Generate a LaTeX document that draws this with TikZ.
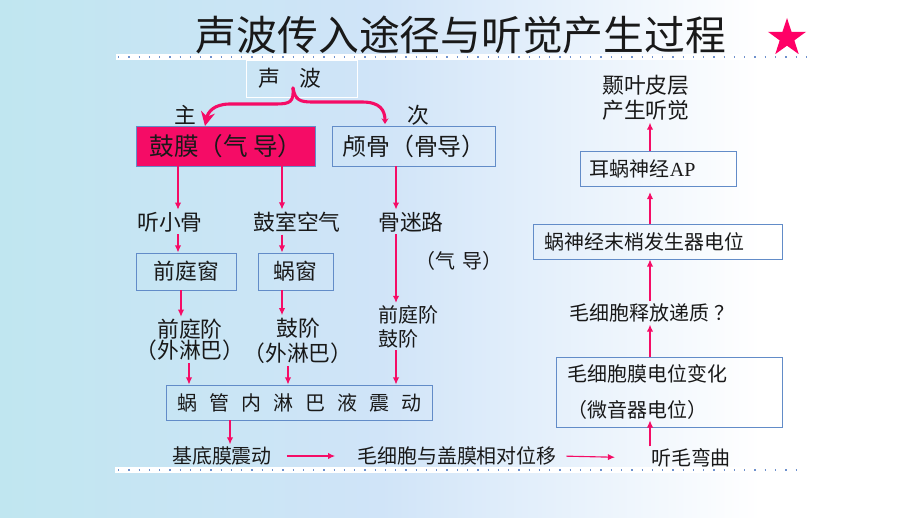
\documentclass[tikz,border=0pt]{standalone}
\usepackage{fontspec}
\setmainfont{Noto Sans CJK SC}
\newfontfamily\apserif{Liberation Serif}
\usetikzlibrary{arrows.meta,shapes.geometric,calc}
\definecolor{earpink}{RGB}{245, 12, 102}
\definecolor{earstar}{RGB}{255, 0, 102}
\definecolor{earblue}{RGB}{98, 140, 200}
\definecolor{eardot}{RGB}{110, 145, 205}
\definecolor{earcyan}{RGB}{192, 230, 240}
\definecolor{earsky}{RGB}{208, 228, 248}
\definecolor{earink}{RGB}{25, 25, 25}

\newcommand{\txttitle}{\fontsize{29pt}{32pt}\selectfont}
\newcommand{\txtbig}{\fontsize{15.5pt}{18pt}\selectfont}
\newcommand{\txtmid}{\fontsize{14.2pt}{17pt}\selectfont}

\tikzset{
  flowbox/.style={draw=earblue, line width=0.7pt, inner sep=0pt, text=earink},
  flowtext/.style={inner sep=1.5pt, text=earink},
  flowarrow/.style={draw=earpink, line width=0.8pt, -{Latex[length=5pt,width=4.5pt]}},
  bracearrow/.style={draw=earpink, line width=2.2pt, line cap=round},
  dotrule/.style={draw=eardot, line width=1.4pt, dash pattern=on 0.9pt off 6.4pt}
}

\begin{document}
\begin{tikzpicture}[x=0.025cm, y=-0.025cm]
% background
\useasboundingbox (0,0) rectangle (920,518);
\fill[white] (0,0) rectangle (920,518);
\shade[left color=earcyan, right color=white, middle color=earsky] (0,0) rectangle (760,518);

% title and rules
\node[text=earink, font=\txttitle] (title) at (461,35) {声波传入途径与听觉产生过程};
\node[star, star points=5, star point ratio=2.6, fill=earstar, minimum size=1cm, inner sep=0pt] (star) at (787,38) {};
\fill[white] (116,54) rectangle (806,60);
\draw[dotrule] (118,57) -- (806,57);
\fill[white] (115,467) rectangle (800,473);
\draw[dotrule] (118,470) -- (800,470);

% left part: conduction
\node[flowbox, draw=white, minimum width=2.75cm, minimum height=0.925cm, font=\txtbig] (sound) at (302,78.5) {声\hspace{0.85em}波\hspace*{0.6cm}};
\node[flowtext, font=\txtbig] (main) at (185,115) {主};
\node[flowtext, font=\txtbig] (second) at (418,115) {次};
\node[flowbox, fill=earpink, minimum width=4.45cm, minimum height=1cm, font=\fontsize{17.5pt}{20pt}\selectfont] (drum) at (226,146) {鼓膜（气 导）};
\node[flowbox, minimum width=4.05cm, minimum height=1cm, font=\fontsize{17pt}{20pt}\selectfont] (skull) at (414,146) {颅骨（骨导）};

\node[flowtext, font=\txtbig] (ossicle) at (170,222) {听小骨};
\node[flowtext, font=\txtbig] (tympair) at (297,222) {鼓室空气};
\node[flowtext, font=\txtbig] (bonelab) at (411,222) {骨迷路};
\node[flowbox, minimum width=2.475cm, minimum height=0.925cm, font=\txtbig] (ovalwin) at (186.5,271.5) {前庭窗};
\node[flowbox, minimum width=1.875cm, minimum height=0.925cm, font=\txtbig] (roundwin) at (295.5,271.5) {蜗窗};
\node[flowtext, font=\txtmid] (airnote) at (459,261) {（气\hspace{0.4em}导）};

\node[flowtext, align=center, font=\txtbig] (vestib) at (190,340) {前庭阶\\[-3pt]（外淋巴）};
\node[flowtext, align=center, font=\txtbig] (tympani) at (298,340.5) {鼓阶\\（外淋巴）};
\node[flowtext, align=left, anchor=west, font=\txtmid] (bonescala) at (376,326.5) {前庭阶\\鼓阶};

\node[flowbox, minimum width=6.625cm, minimum height=0.875cm, font=\txtmid] (cochlea) at (299.5,402.5) {{\spaceskip=0.6em 蜗 管 内 淋 巴 液 震 动}};

% bottom row
\node[flowtext, font=\txtmid] (basilar) at (222,456) {基底膜震动};
\node[flowtext, font=\txtmid] (shear) at (457,456) {毛细胞与盖膜相对位移};
\node[flowtext, font=\txtmid] (hairbend) at (691,458) {听毛弯曲};

% right part: transduction
\node[flowbox, minimum width=5.625cm, minimum height=1.75cm, text width=5.075cm, inner xsep=0.275cm, align=left, font=\fontsize{14.2pt}{25pt}\selectfont] (hairpot) at (669.5,392) {毛细胞膜电位变化\\（微音器电位）};
\node[flowtext, font=\txtmid] (transmit) at (652,313) {毛细胞释放递质 ？};
\node[flowbox, minimum width=6.2cm, minimum height=0.875cm, text width=5.65cm, inner xsep=0.275cm, align=left, font=\txtmid] (generator) at (658,241.5) {蜗神经末梢发生器电位};
\node[flowbox, minimum width=3.875cm, minimum height=0.875cm, text width=3.425cm, inner xsep=0.225cm, align=left, font=\txtmid] (nerveap) at (658.5,168.5) {耳蜗神经{\apserif AP}};
\node[flowtext, align=left, anchor=west, font=\txtbig] (cortex) at (600,97.5) {颞叶皮层\\产生听觉};

% arrow columns
\coordinate (colA) at (178,0);
\coordinate (colAa) at (181,0);
\coordinate (colAb) at (189,0);
\coordinate (colB) at (282,0);
\coordinate (colBb) at (288,0);
\coordinate (colC) at (396,0);
\coordinate (colD) at (230,0);
\coordinate (colE) at (650,0);

% brace from sound
\coordinate (bracetip) at (293,88);
\coordinate (mainend) at (205,126);
\coordinate (skullend) at (385,124);
\draw[bracearrow, -{Stealth[length=10pt,width=10pt]}] (bracetip) .. controls (294,102) and (290,104) .. (276,104) -- (230,104) .. controls (214,104) and (208,112) .. (mainend);
\draw[bracearrow, -{Stealth[length=4pt,width=5pt]}] (bracetip) .. controls (295,100) and (300,102) .. (312,102) -- (362,102) .. controls (380,102) and (385,110) .. (skullend);

% left arrows
\draw[flowarrow] (drum.south -| colA) -- (ossicle.north -| colA);
\draw[flowarrow] (ossicle.south -| colA) -- (ovalwin.north -| colA);
\draw[flowarrow] (drum.south -| colB) -- (tympair.north -| colB);
\draw[flowarrow] (tympair.south -| colB) -- (roundwin.north -| colB);
\draw[flowarrow] (skull.south -| colC) -- (bonelab.north -| colC);
\draw[flowarrow] (bonelab.south -| colC) -- (bonescala.north -| colC);
\draw[flowarrow] (ovalwin.south -| colAa) -- (vestib.north -| colAa);
\draw[flowarrow] (roundwin.south -| colB) -- (tympani.north -| colB);
\draw[flowarrow] (vestib.south -| colAb) -- (cochlea.north -| colAb);
\draw[flowarrow] (tympani.south -| colBb) -- (cochlea.north -| colBb);
\draw[flowarrow] (bonescala.south -| colC) -- (cochlea.north -| colC);
\draw[flowarrow] (cochlea.south -| colD) -- (basilar.north -| colD);

% bottom and right arrows
\draw[flowarrow, shorten <=9pt, shorten >=14pt] (basilar.east) -- (shear.west);
\draw[flowarrow, shorten <=5pt, shorten >=24pt] (shear.east) -- (hairbend.west);
\draw[flowarrow, shorten >=-5pt] (hairbend.north -| colE) -- (hairpot.south -| colE);
\draw[flowarrow] (hairpot.north -| colE) -- (transmit.south -| colE);
\draw[flowarrow] (transmit.north -| colE) -- (generator.south -| colE);
\draw[flowarrow, shorten >=4pt] (generator.north -| colE) -- (nerveap.south -| colE);
\draw[flowarrow] (nerveap.north -| colE) -- (cortex.south -| colE);
\end{tikzpicture}
\end{document}
